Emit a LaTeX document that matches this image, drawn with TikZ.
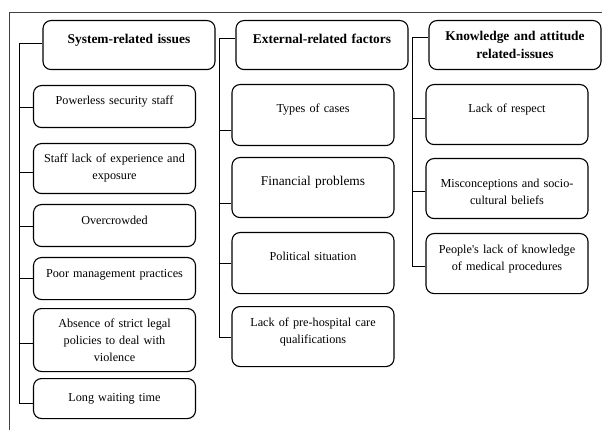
\documentclass[tikz,border=0pt]{standalone}
\usepackage{fontspec}
\setmainfont{Liberation Serif}
\usepackage{tikz}
\usetikzlibrary{positioning,calc}

\begin{document}
\begin{tikzpicture}[
    x=1pt, y=-1pt,
    every node/.style={font=\fontsize{12.2}{16.8}\selectfont},
    head/.style={draw, rounded corners=8pt, line width=1.1pt, anchor=north, inner xsep=4pt, inner ysep=0pt, align=center, text width=164pt, font=\fontsize{13.4}{18}\selectfont\bfseries},
    item/.style={draw, rounded corners=8pt, line width=1.1pt, anchor=north, inner xsep=4pt, inner ysep=0pt, align=center, text width=154pt},
    link/.style={line width=0.9pt},
    frame/.style={line width=0.8pt, black!75}
]
\useasboundingbox (0,0) rectangle (602,430);
\draw[frame] (9,430) -- (9,12) -- (602,12);

\node[head, text height=22.5pt, text depth=26.5pt] (h1) at (129,20) {System-related issues};
\node[item, text height=19pt, text depth=23pt] (s1) at (114.5,85) {Powerless security staff};
\node[item, text height=19pt, text depth=31pt] (s2) at (114.5,143) {Staff lack of experience and\\exposure};
\node[item, text height=20pt, text depth=22pt] (s3) at (114.5,204) {Overcrowded};
\node[item, text height=20pt, text depth=22pt] (s4) at (114.5,257) {Poor management practices};
\node[item, text height=19pt, text depth=44pt] (s5) at (114.5,308) {Absence of strict legal\\policies to deal with\\violence};
\node[item, text height=23pt, text depth=17pt] (s6) at (114.5,378) {Long waiting time};

\node[head, text height=22.5pt, text depth=26.5pt] (h2) at (322,20) {External-related factors};
\node[item, text height=28pt, text depth=33pt] (e1) at (313,84) {Types of cases};
\node[item, text height=27.5pt, text depth=32.5pt, font=\fontsize{13.4}{18}\selectfont] (e2) at (313,157) {Financial problems};
\node[item, text height=28pt, text depth=33pt] (e3) at (313,232) {Political situation};
\node[item, text height=20pt, text depth=40pt] (e4) at (313,306) {Lack of pre-hospital care\\qualifications};

\node[head, text height=19.5pt, text depth=29.5pt] (h3) at (515,20) {Knowledge and attitude\\related-issues};
\node[item, text height=28pt, text depth=32pt] (k1) at (507,84) {Lack of respect};
\node[item, text height=29pt, text depth=31pt] (k2) at (507,158) {Misconceptions and socio-\\cultural beliefs};
\node[item, text height=20pt, text depth=40pt] (k3) at (507,233) {People\textquotesingle s lack of knowledge\\of medical procedures};

\draw[link] ([yshift=1.5pt]h1.west) -- ++(-23,0) coordinate (t1) |- ([yshift=-5pt]s6.west);
\foreach \n/\s in {s1/-1pt,s2/-4pt,s3/-1pt,s4/0pt,s5/-3.5pt}
    \draw[link] ([yshift=\s]\n.west) -- ([yshift=\s]\n.west -| t1);

\draw[link] ([yshift=6.5pt]h2.west) -- ++(-16,0) coordinate (t2) |- ([yshift=-1pt]e4.west);
\foreach \n/\s in {e1/-15.5pt,e2/-16pt,e3/0pt}
    \draw[link] ([yshift=\s]\n.west) -- ([yshift=\s]\n.west -| t2);

\draw[link] ([yshift=7.5pt]h3.west) -- ++(-16,0) coordinate (t3) |- ([yshift=-3pt]k3.west);
\foreach \n/\s in {k1/-4pt,k2/-3pt}
    \draw[link] ([yshift=\s]\n.west) -- ([yshift=\s]\n.west -| t3);
\end{tikzpicture}
\end{document}
